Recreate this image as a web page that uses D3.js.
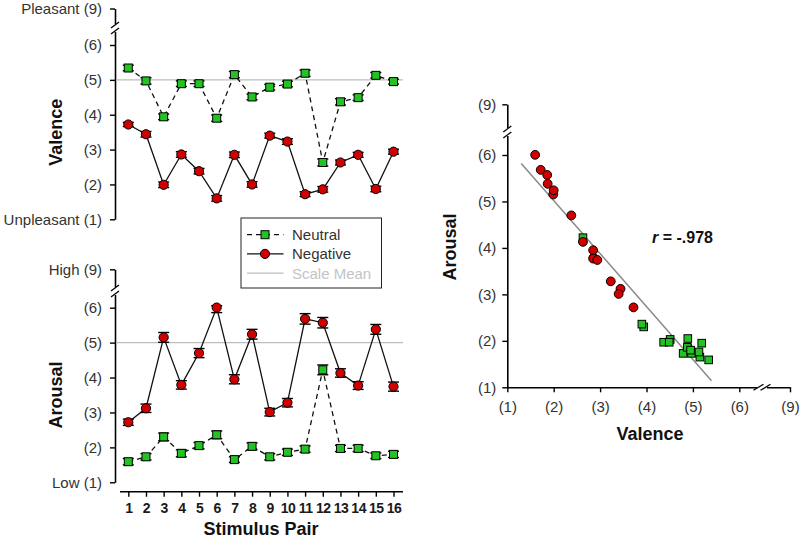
<!DOCTYPE html>
<html>
<head>
<meta charset="utf-8">
<script src="https://cdn.jsdelivr.net/npm/d3@7"></script>
<style>
  body { margin: 0; background: #fff; }
  svg { display: block; font-family: "Liberation Sans", Arial, sans-serif; }
</style>
</head>
<body>
<div id="chart"></div>
<script>
// stimulus pairs 1..16
const pairs = d3.range(1, 17);

// mean ratings
const valenceNeutral = [5.34, 4.97, 3.94, 4.89, 4.89, 3.90, 5.15, 4.51, 4.79, 4.88, 5.19, 2.63, 4.37, 4.49, 5.13, 4.95];
const valenceNegative = [3.72, 3.44, 1.99, 2.86, 2.38, 1.60, 2.85, 2.00, 3.40, 3.23, 1.72, 1.86, 2.63, 2.85, 1.87, 2.94];
const arousalNeutral = [1.59, 1.73, 2.30, 1.83, 2.05, 2.36, 1.65, 2.03, 1.73, 1.86, 1.95, 4.22, 1.97, 1.97, 1.76, 1.80];
const arousalNegative = [2.72, 3.12, 5.15, 3.79, 4.70, 6.01, 3.95, 5.24, 3.01, 3.28, 5.68, 5.57, 4.13, 3.77, 5.38, 3.74];

// standard errors (estimated from the bar caps)
const valenceNeutralErr = [0.08, 0.09, 0.08, 0.08, 0.08, 0.09, 0.09, 0.08, 0.08, 0.08, 0.09, 0.10, 0.09, 0.08, 0.08, 0.07];
const valenceNegativeErr = [0.06, 0.08, 0.08, 0.08, 0.08, 0.08, 0.08, 0.08, 0.07, 0.08, 0.07, 0.08, 0.07, 0.07, 0.08, 0.07];
const arousalNeutralErr = [0.09, 0.09, 0.11, 0.10, 0.09, 0.11, 0.08, 0.10, 0.09, 0.09, 0.09, 0.14, 0.09, 0.09, 0.08, 0.09];
const arousalNegativeErr = [0.09, 0.12, 0.14, 0.12, 0.13, 0.15, 0.13, 0.14, 0.11, 0.12, 0.15, 0.15, 0.12, 0.11, 0.14, 0.13];

const scaleMean = 5;
const rLabel = "= -.978";

// axis tick values (broken axis: 1..6, then 9)
const tickValues = [1, 2, 3, 4, 5, 6, 9];
const valenceTickNames = { 1: "Unpleasant (1)", 9: "Pleasant (9)" };
const arousalTickNames = { 1: "Low (1)", 9: "High (9)" };

const green = "#22c322";
const red = "#d10000";
const textCol = "#333";

const width = 800, height = 539;
const svg = d3.select("#chart").append("svg")
  .attr("width", width).attr("height", height);

// shared category scale for the two left panels
const x = d3.scalePoint().domain(pairs).range([128.3, 393.5]);

const yVal = d3.scaleLinear().domain([1, 6, 9]).range([219.3, 45, 8.5]);
const yAro = d3.scaleLinear().domain([1, 6, 9]).range([482.3, 307.7, 269.3]);

// draws the "//" break on an axis at point (cx, cy)
function axisBreak(g, cx, cy, vertical) {
  const b = g.append("g").attr("transform", `translate(${cx},${cy})`);
  if (vertical) {
    b.append("rect").attr("x", -6).attr("y", -4).attr("width", 12).attr("height", 8).attr("fill", "#fff");
    [-3, 3].forEach(d => b.append("line")
      .attr("x1", -4).attr("y1", d + 3).attr("x2", 4).attr("y2", d - 3)
      .attr("stroke", "#000").attr("stroke-width", 1.3));
  } else {
    b.append("rect").attr("x", -5).attr("y", -5).attr("width", 10).attr("height", 10).attr("fill", "#fff");
    [-3.5, 3.5].forEach(d => b.append("line")
      .attr("x1", d - 5).attr("y1", 3).attr("x2", d + 5).attr("y2", -3)
      .attr("stroke", "#000").attr("stroke-width", 1.3));
  }
}

function styleAxis(g) {
  g.selectAll(".domain").attr("stroke", "#000").attr("stroke-width", 1.6);
  g.selectAll(".tick line").attr("stroke", "#000").attr("stroke-width", 1.4);
  g.selectAll(".tick text").attr("fill", textCol).style("font-size", "15px");
}

function panel(y, neutral, neutralErr, negative, negativeErr, names, title, breakY) {
  const g = svg.append("g");

  // y axis
  const ax = g.append("g").attr("transform", "translate(115,0)")
    .call(d3.axisLeft(y).tickValues(tickValues).tickSize(5).tickSizeOuter(0).tickPadding(8)
      .tickFormat(d => names[d] || `(${d})`));
  styleAxis(ax);
  axisBreak(g, 115, breakY, true);

  g.append("text")
    .attr("transform", `translate(62,${(y(1) + y(6)) / 2}) rotate(-90)`)
    .attr("text-anchor", "middle")
    .attr("fill", "#111")
    .style("font-size", "18px").style("font-weight", "bold")
    .text(title);

  // scale mean line
  g.append("line")
    .attr("x1", 116).attr("x2", 403)
    .attr("y1", y(scaleMean)).attr("y2", y(scaleMean))
    .attr("stroke", "#bdbdbd").attr("stroke-width", 1.3);

  const line = d3.line().x((d, i) => x(pairs[i])).y(d => y(d));

  g.append("path").datum(neutral).attr("d", line)
    .attr("fill", "none").attr("stroke", "#111").attr("stroke-width", 1.3)
    .attr("stroke-dasharray", "5,4");
  g.append("path").datum(negative).attr("d", line)
    .attr("fill", "none").attr("stroke", "#111").attr("stroke-width", 1.3);

  // error bars
  [[neutral, neutralErr], [negative, negativeErr]].forEach(([vals, errs]) => {
    const eb = g.append("g").selectAll("g").data(vals).join("g");
    eb.append("line")
      .attr("x1", (d, i) => x(pairs[i])).attr("x2", (d, i) => x(pairs[i]))
      .attr("y1", (d, i) => y(d - errs[i])).attr("y2", (d, i) => y(d + errs[i]))
      .attr("stroke", "#000").attr("stroke-width", 1.2);
    [-1, 1].forEach(s => eb.append("line")
      .attr("x1", (d, i) => x(pairs[i]) - 5.5).attr("x2", (d, i) => x(pairs[i]) + 5.5)
      .attr("y1", (d, i) => y(d + s * errs[i])).attr("y2", (d, i) => y(d + s * errs[i]))
      .attr("stroke", "#000").attr("stroke-width", 1.4));
  });

  g.append("g").selectAll("rect").data(neutral).join("rect")
    .attr("x", (d, i) => x(pairs[i]) - 4).attr("y", d => y(d) - 4)
    .attr("width", 8).attr("height", 8)
    .attr("fill", green).attr("stroke", "#000").attr("stroke-width", 1);
  g.append("g").selectAll("circle").data(negative).join("circle")
    .attr("cx", (d, i) => x(pairs[i])).attr("cy", d => y(d)).attr("r", 4.6)
    .attr("fill", red).attr("stroke", "#000").attr("stroke-width", 1);
  return g;
}

panel(yVal, valenceNeutral, valenceNeutralErr, valenceNegative, valenceNegativeErr,
  valenceTickNames, "Valence", 28);
panel(yAro, arousalNeutral, arousalNeutralErr, arousalNegative, arousalNegativeErr,
  arousalTickNames, "Arousal", 291);

// category axis under the arousal panel
const xAx = svg.append("g").attr("transform", "translate(0,491.7)")
  .call(d3.axisBottom(x).tickSize(5).tickSizeOuter(0).tickPadding(6));
xAx.select(".domain").attr("d", "M120,0H403");
styleAxis(xAx);
xAx.selectAll(".tick text").attr("fill", "#1a1a1a")
  .style("font-size", "14px").style("font-weight", "bold").style("letter-spacing", "-0.5px");

svg.append("text")
  .attr("x", 261).attr("y", 535)
  .attr("text-anchor", "middle").attr("fill", "#111")
  .style("font-size", "18px").style("font-weight", "bold")
  .text("Stimulus Pair");

// legend
const leg = svg.append("g");
leg.append("rect").attr("x", 241).attr("y", 218).attr("width", 140.5).attr("height", 70)
  .attr("fill", "#fff").attr("stroke", "#222").attr("stroke-width", 1);
const legItems = [
  { name: "Neutral", dash: "5,4", stroke: "#111", marker: "square", col: textCol },
  { name: "Negative", dash: null, stroke: "#111", marker: "circle", col: textCol },
  { name: "Scale Mean", dash: null, stroke: "#bdbdbd", marker: null, col: "#c4c4c4" }
];
legItems.forEach((d, i) => {
  const ly = 234.7 + i * 19.2;
  leg.append("line").attr("x1", 247).attr("x2", 283.5).attr("y1", ly).attr("y2", ly)
    .attr("stroke", d.stroke).attr("stroke-width", 1.3)
    .attr("stroke-dasharray", d.dash);
  if (d.marker === "square") {
    leg.append("rect").attr("x", 261).attr("y", ly - 4).attr("width", 8).attr("height", 8)
      .attr("fill", green).attr("stroke", "#000");
  } else if (d.marker === "circle") {
    leg.append("circle").attr("cx", 265).attr("cy", ly).attr("r", 4.6)
      .attr("fill", red).attr("stroke", "#000");
  }
  leg.append("text").attr("x", 292).attr("y", ly + 5.5)
    .attr("fill", d.col).style("font-size", "15px").text(d.name);
});

// scatter panel: valence vs arousal
const xS = d3.scaleLinear().domain([1, 6, 9]).range([507.3, 739.3, 790]);
const yS = d3.scaleLinear().domain([1, 6, 9]).range([387.3, 155, 104.3]);
const sc = svg.append("g");

const sxAx = sc.append("g").attr("transform", "translate(0,387.3)")
  .call(d3.axisBottom(xS).tickValues(tickValues).tickSize(5).tickSizeOuter(0).tickPadding(9)
    .tickFormat(d => `(${d})`));
styleAxis(sxAx);
const syAx = sc.append("g").attr("transform", "translate(507.3,0)")
  .call(d3.axisLeft(yS).tickValues(tickValues).tickSize(5).tickSizeOuter(0).tickPadding(6)
    .tickFormat(d => `(${d})`));
styleAxis(syAx);
axisBreak(sc, 507.3, 132, true);
axisBreak(sc, 762, 387.3, false);

sc.append("text")
  .attr("transform", "translate(456,247) rotate(-90)")
  .attr("text-anchor", "middle").attr("fill", "#111")
  .style("font-size", "18px").style("font-weight", "bold").text("Arousal");
sc.append("text")
  .attr("x", 650).attr("y", 440)
  .attr("text-anchor", "middle").attr("fill", "#111")
  .style("font-size", "18px").style("font-weight", "bold").text("Valence");

// least-squares fit of arousal on valence over all 32 points
const allV = valenceNeutral.concat(valenceNegative);
const allA = arousalNeutral.concat(arousalNegative);
const mv = d3.mean(allV), ma = d3.mean(allA);
const slope = d3.sum(allV, (v, i) => (v - mv) * (allA[i] - ma)) / d3.sum(allV, v => (v - mv) ** 2);
const fit = v => ma + slope * (v - mv);
const fitRange = [1.3, 5.4];
sc.append("line")
  .attr("x1", xS(fitRange[0])).attr("y1", yS(fit(fitRange[0])))
  .attr("x2", xS(fitRange[1])).attr("y2", yS(fit(fitRange[1])))
  .attr("stroke", "#8a8a8a").attr("stroke-width", 1.5);

sc.append("g").selectAll("rect").data(valenceNeutral).join("rect")
  .attr("x", d => xS(d) - 3.8).attr("y", (d, i) => yS(arousalNeutral[i]) - 3.8)
  .attr("width", 7.6).attr("height", 7.6)
  .attr("fill", green).attr("stroke", "#000").attr("stroke-width", 1);
sc.append("g").selectAll("circle").data(valenceNegative).join("circle")
  .attr("cx", d => xS(d)).attr("cy", (d, i) => yS(arousalNegative[i])).attr("r", 4.4)
  .attr("fill", red).attr("stroke", "#000").attr("stroke-width", 1);

const rt = sc.append("text").attr("x", 652).attr("y", 243)
  .attr("fill", "#111").style("font-size", "16px").style("font-weight", "bold");
rt.append("tspan").style("font-style", "italic").text("r");
rt.append("tspan").text(" " + rLabel);
</script>
</body>
</html>
